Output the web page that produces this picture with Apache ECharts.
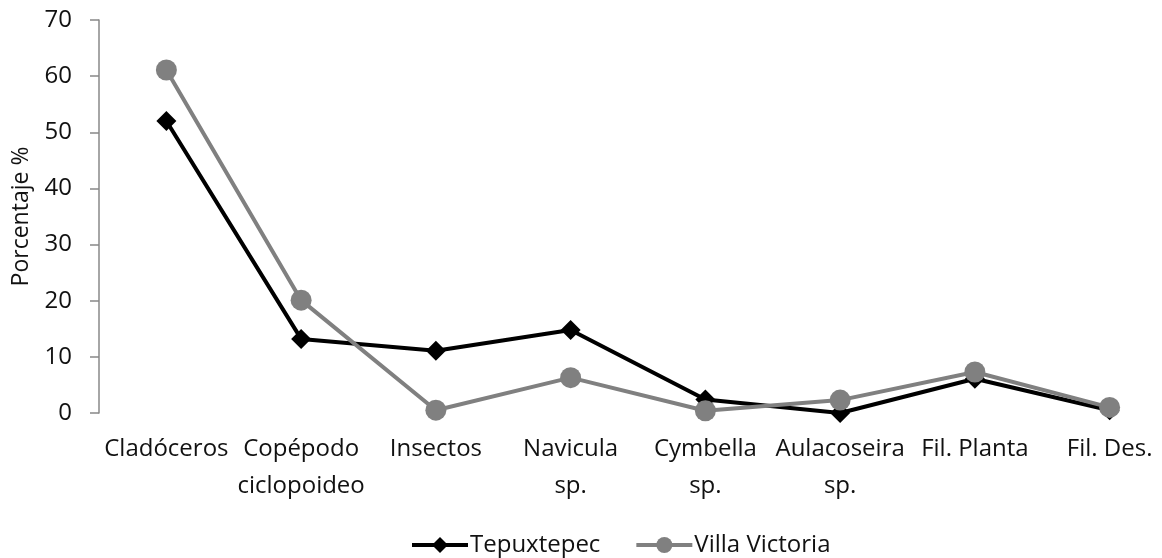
<!DOCTYPE html>
<html><head><meta charset="utf-8">
<script src="https://cdn.jsdelivr.net/npm/echarts@6/dist/echarts.min.js"></script>
<style>html,body{margin:0;padding:0;background:#fff}#c{width:1162px;height:558px}</style>
</head><body><div id="c"></div>
<script>
const categories = ['Cladóceros','Copépodo\nciclopoideo','Insectos','Navicula\nsp.','Cymbella\nsp.','Aulacoseira\nsp.','Fil. Planta','Fil. Des.'];
const tepuxtepec = [52, 13.2, 11.1, 14.8, 2.4, 0, 6.1, 0.5];
const villaVictoria = [61.1, 20.1, 0.5, 6.3, 0.4, 2.3, 7.3, 1.0];
const yTicks = {min: 0, max: 70, interval: 10};
const FONT = '"Open Sans", sans-serif';
const chart = echarts.init(document.getElementById('c'), null, {renderer: 'canvas'});
chart.setOption({
  animation: false,
  backgroundColor: '#fff',
  textStyle: {fontFamily: FONT},
  grid: {left: 99, top: 20, width: 1078, height: 393, outerBoundsMode: 'none', containLabel: false},
  legend: {
    bottom: -4, left: 405, itemWidth: 56, itemHeight: 20, itemGap: 34,
    lineStyle: {width: 4},
    textStyle: {fontFamily: FONT, fontSize: 24, color: '#111', padding: [0, 0, 0, -3]},
    data: ['Tepuxtepec', 'Villa Victoria']
  },
  xAxis: {
    type: 'category', data: categories, boundaryGap: true,
    axisLine: {show: false}, axisTick: {show: false},
    axisLabel: {fontFamily: FONT, fontSize: 24, color: '#111', lineHeight: 37, margin: 18, interval: 0}
  },
  yAxis: {
    type: 'value', min: yTicks.min, max: yTicks.max, interval: yTicks.interval,
    name: 'Porcentaje %', nameLocation: 'middle', nameGap: 66,
    nameTextStyle: {fontFamily: FONT, fontSize: 23, color: '#111'},
    axisLine: {show: true, lineStyle: {color: '#888', width: 1.5}},
    axisTick: {show: true, length: 9, lineStyle: {color: '#888', width: 1.5}},
    splitLine: {show: false},
    axisLabel: {fontFamily: FONT, fontSize: 24, color: '#111', margin: 27}
  },
  series: [
    {name: 'Tepuxtepec', type: 'line', data: tepuxtepec, symbol: 'diamond', symbolSize: 20,
     lineStyle: {color: '#000', width: 4}, itemStyle: {color: '#000'}},
    {name: 'Villa Victoria', type: 'line', data: villaVictoria, symbol: 'circle', symbolSize: 21,
     lineStyle: {color: '#808080', width: 4}, itemStyle: {color: '#808080'}}
  ]
});
</script></body></html>
